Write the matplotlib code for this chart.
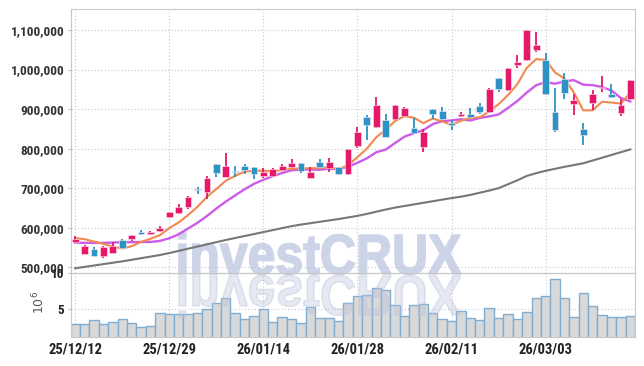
"""
Daily candlestick chart with 5/10-day moving averages, a long moving average
and a volume panel underneath (25/12/12 - late March 2026).
"""

import numpy as np
import matplotlib
matplotlib.use("Agg")
import matplotlib.pyplot as plt
from matplotlib import font_manager
from matplotlib.font_manager import FontProperties
from matplotlib.patches import PathPatch
from matplotlib.textpath import TextPath
from matplotlib.transforms import Affine2D

# prices in thousands of won, one entry per trading day
opens = [565.0, 534.6, 546.5, 528.7, 537.2, 569.3, 571.8, 588.7, 585.3, 591.3,
         627.6, 637.7, 651.3, 698.6, 690.1, 761.1, 729.0, 743.4, 755.3, 752.8,
         731.6, 731.6, 746.0, 752.8, 762.9, 726.5, 765.4, 751.8, 752.8, 735.1,
         806.7, 879.3, 854.9, 871.7, 875.1, 883.5, 851.5, 804.2, 899.6, 894.5,
         864.1, 881.9, 888.6, 907.2, 892.8, 979.6, 949.1, 1011.0, 1023.7, 1049.1,
         1023.7, 892.4, 977.1, 911.9, 850.0, 914.4, 952.5, 939.0, 889.8, 925.4]
closes = [572.7, 554.0, 529.6, 550.7, 554.0, 549.9, 582.0, 583.7, 590.4, 599.7,
          640.3, 652.9, 677.5, 694.4, 725.6, 739.2, 756.1, 740.9, 746.7, 736.6,
          740.9, 747.7, 756.1, 762.9, 743.4, 740.2, 752.8, 765.4, 735.1, 798.3,
          841.3, 859.9, 909.7, 829.5, 909.7, 902.1, 839.7, 841.4, 886.9, 874.3,
          859.9, 888.6, 880.2, 892.8, 950.2, 950.0, 1004.2, 1018.6, 1099.0, 1060.9,
          938.1, 847.5, 939.8, 923.7, 834.8, 939.0, 955.9, 929.6, 910.2, 973.7]
highs = [578.6, 556.6, 550.7, 553.2, 563.4, 571.8, 582.0, 593.8, 591.3, 603.9,
         640.3, 660.6, 680.8, 702.0, 729.8, 761.1, 788.2, 755.3, 760.4, 752.8,
         750.3, 750.3, 761.9, 773.0, 762.9, 754.3, 773.0, 775.6, 752.8, 798.3,
         855.4, 884.4, 931.6, 888.6, 909.7, 906.3, 877.6, 849.8, 899.6, 906.3,
         871.7, 893.7, 903.8, 914.8, 954.4, 979.6, 1004.2, 1038.0, 1099.0, 1094.8,
         1040.6, 953.4, 991.5, 937.3, 864.4, 947.4, 983.0, 963.5, 926.3, 973.7]
lows = [562.5, 533.0, 529.6, 522.8, 537.2, 548.2, 567.6, 581.1, 584.5, 590.4,
        623.4, 634.4, 647.0, 685.0, 672.4, 727.5, 727.5, 727.5, 735.1, 723.2,
        726.5, 730.8, 743.4, 750.3, 737.6, 726.5, 750.3, 741.7, 733.3, 733.3,
        802.4, 821.1, 853.2, 829.5, 873.4, 881.9, 836.3, 792.4, 875.9, 872.6,
        847.3, 879.3, 878.5, 888.6, 890.3, 942.4, 944.9, 1004.2, 1021.1, 1044.8,
        936.4, 843.2, 925.4, 885.6, 809.4, 897.5, 942.4, 927.1, 881.4, 923.7]

# moving averages as drawn on the chart (thousands of won)
ma_short = [574.0, 571.0, 565.0, 559.0, 552.2, 547.6, 553.2, 564.1, 572.0, 581.1,
            599.2, 613.4, 632.2, 653.0, 678.1, 697.9, 718.6, 731.2, 741.7, 743.9,
            744.2, 742.6, 745.6, 748.8, 750.2, 750.1, 751.1, 752.9, 747.4, 758.4,
            778.6, 800.0, 828.9, 847.7, 870.0, 882.2, 878.1, 864.5, 876.0, 868.9,
            860.4, 870.2, 878.0, 879.2, 894.3, 912.4, 935.5, 963.2, 1004.4, 1026.5,
            1024.2, 992.8, 977.1, 942.0, 896.8, 897.0, 918.6, 916.6, 913.9, 941.7]
ma_mid = [562.5, 561.7, 561.7, 561.7, 562.5, 563.4, 563.4, 564.0, 564.0, 566.7,
          573.4, 583.3, 598.1, 612.5, 629.6, 648.6, 666.0, 681.7, 697.3, 711.0,
          721.1, 730.6, 738.4, 745.3, 747.1, 747.2, 746.8, 749.3, 748.1, 754.3,
          764.3, 775.5, 790.9, 797.6, 814.2, 830.4, 839.1, 846.7, 861.9, 869.5,
          871.3, 874.2, 871.2, 877.6, 881.6, 886.4, 902.9, 920.6, 941.8, 960.4,
          968.3, 964.2, 970.1, 973.2, 961.7, 960.6, 955.7, 946.8, 928.0, 919.2]
ma_long = [497.5, 501.0, 504.5, 508.0, 511.5, 515.0, 519.0, 523.0, 527.0, 531.0,
           536.0, 541.5, 547.0, 552.5, 558.0, 563.5, 569.0, 574.0, 579.0, 584.0,
           589.0, 594.0, 599.0, 604.0, 608.0, 611.5, 615.0, 618.5, 622.0, 626.0,
           630.0, 635.0, 640.5, 646.0, 651.0, 655.0, 659.0, 663.0, 667.0, 671.0,
           675.0, 678.5, 683.0, 688.5, 694.0, 700.0, 710.0, 720.0, 731.0, 738.0,
           744.0, 749.0, 754.0, 758.5, 763.0, 770.0, 777.0, 784.0, 791.0, 798.0]

# volume, millions of shares
volume = [2.95, 2.82, 3.50, 2.95, 3.23, 3.64, 3.09, 2.41, 2.55, 4.45,
          4.32, 4.32, 4.32, 4.45, 5.00, 5.77, 6.50, 4.45, 3.64, 4.05,
          5.00, 3.23, 3.90, 3.64, 3.09, 5.27, 3.77, 3.77, 3.36, 5.82,
          6.82, 6.95, 7.86, 7.59, 5.45, 4.05, 5.55, 5.68, 4.45, 3.64,
          3.36, 4.73, 3.77, 3.50, 5.14, 3.77, 4.32, 3.64, 4.59, 6.50,
          6.82, 9.09, 6.50, 3.90, 7.18, 5.41, 4.18, 3.90, 3.90, 4.05]

tick_index = [0, 10, 20, 30, 40, 50]
tick_labels = ["25/12/12", "25/12/29", "26/01/14", "26/01/28", "26/02/11", "26/03/03"]
price_ticks = [500000, 600000, 700000, 800000, 900000, 1000000, 1100000]

UP = "#e6186a"
DOWN = "#2c93c6"
GRID = "#c5c8d8"
SPINE = "#c8c8c8"

W, H = 644, 366


def pick_label_font():
    """Prefer a condensed face, like the original chart uses."""
    fonts = font_manager.fontManager.ttflist
    names = {f.name for f in fonts}
    for name in ["Liberation Sans Narrow", "Roboto Condensed", "Open Sans Condensed"]:
        if name in names:
            return FontProperties(family=name, weight="bold")
    for f in fonts:
        if f.name in ("DejaVu Sans", "Roboto", "Open Sans") and f.stretch in ("condensed", 300):
            return FontProperties(family=f.name, weight="bold", stretch="condensed")
    return FontProperties(family="Roboto", weight="bold")


def style_labels(labels, fp, size, color):
    for lab in labels:
        lab.set_fontproperties(fp)
        lab.set_fontsize(size)
        lab.set_color(color)


def main():
    o = np.array(opens) * 1000
    c = np.array(closes) * 1000
    hi = np.array(highs) * 1000
    lo = np.array(lows) * 1000
    x = np.arange(len(o))
    colors = [UP if cc >= oo else DOWN for oo, cc in zip(o, c)]
    label_fp = pick_label_font()

    fig = plt.figure(figsize=(W / 100, H / 100), dpi=100)
    fig.patch.set_facecolor("white")

    top, split, bottom, left, right = 9, 272.7, 337, 70.5, 635
    ax = fig.add_axes([left / W, 1 - split / H, (right - left) / W, (split - top) / H])
    axv = fig.add_axes([left / W, 1 - bottom / H, (right - left) / W, (bottom - split) / H],
                       sharex=ax)
    ax.patch.set_alpha(0)
    axv.patch.set_alpha(0)

    # price panel
    ax.plot(x, np.array(ma_long) * 1000, color="#777777", lw=1.5, zorder=3)
    ax.plot(x, np.array(ma_mid) * 1000, color="#cc5be8", lw=1.7, zorder=3)
    ax.plot(x, np.array(ma_short) * 1000, color="#f0894f", lw=1.5, zorder=3)
    ax.vlines(x, lo, hi, colors=colors, lw=1.3, zorder=4)
    body = np.maximum(np.abs(c - o), 1500)
    ax.bar(x, body, bottom=np.minimum(o, c), width=0.72, color=colors,
           edgecolor="#fbe6ee", linewidth=0.4, zorder=5)

    ax.set_xlim(-0.5, 59.5)
    ax.set_ylim(486300, 1153100)
    ax.set_yticks(price_ticks)
    ax.set_yticklabels([f"{v:,}" for v in price_ticks])
    ax.grid(True, ls=(0, (1, 2)), color=GRID, lw=0.8)
    ax.tick_params(axis="y", length=2.5, color="#bbbbbb", pad=2)
    ax.tick_params(axis="x", length=0, labelbottom=False)
    style_labels(ax.get_yticklabels(), label_fp, 9.5, "#333333")
    for s in ax.spines.values():
        s.set_color(SPINE)

    # volume panel
    axv.bar(x, volume, width=1.0, color="#d9d9d9", edgecolor="#80aed3",
            linewidth=1.0, zorder=2)
    axv.set_ylim(1.08, 10.0)
    axv.set_yticks([5, 10])
    axv.set_yticklabels(["5", "10"])
    axv.set_xticks(tick_index)
    axv.set_xticklabels(tick_labels)
    axv.grid(True, ls=(0, (1, 2)), color=GRID, lw=0.8)
    axv.tick_params(axis="y", length=2.5, color="#bbbbbb", pad=2)
    axv.tick_params(axis="x", length=0, pad=4)
    style_labels(axv.get_yticklabels(), label_fp, 9.5, "#222222")
    style_labels(axv.get_xticklabels(), label_fp, 10.5, "#222222")
    for s in axv.spines.values():
        s.set_color(SPINE)
    fig.text(39 / W, 1 - 302 / H, r"$10^{6}$", rotation=90, ha="center",
             va="center", color="#555555", fontsize=9)

    # watermark and its reflection
    tp = TextPath((0, 0), "investCRUX", size=100,
                  prop=FontProperties(family="Liberation Sans", weight="bold"))
    bb = tp.get_extents()
    x0, x1, base, cap = 179, 461, H - 274, H - 233
    sx = (x1 - x0) / bb.width
    sy = (cap - base) / bb.y1
    to_fig = Affine2D().scale(1 / W, 1 / H) + fig.transFigure
    main_tr = Affine2D().translate(-bb.x0, 0).scale(sx, sy).translate(x0, base) + to_fig
    refl_tr = Affine2D().translate(-bb.x0, 0).scale(sx, -sy).translate(x0, base - 2) + to_fig
    ax.add_patch(PathPatch(tp, transform=main_tr, facecolor="#cdd4e8",
                           edgecolor="#cdd4e8", lw=1.2, zorder=1, clip_on=False))
    fig.patches.append(PathPatch(tp, transform=refl_tr, facecolor="#b8c0d8",
                                 edgecolor="#b8c0d8", lw=1.2, alpha=0.35, zorder=6))

    fig.savefig("out.png", dpi=100)
    plt.close(fig)


if __name__ == "__main__":
    main()
